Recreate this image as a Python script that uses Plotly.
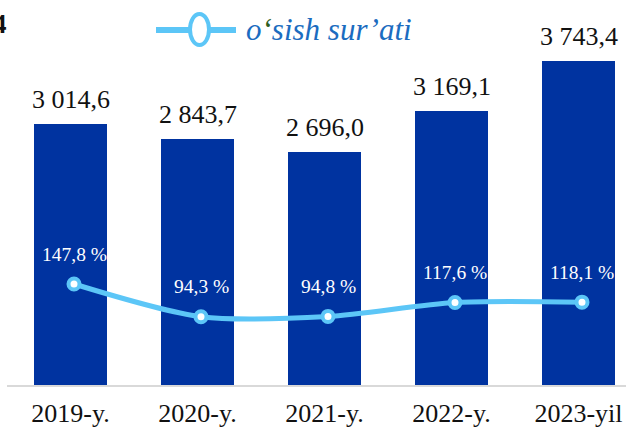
import plotly.graph_objects as go

categories = ["2019-y.", "2020-y.", "2021-y.", "2022-y.", "2023-yil"]
volume = [3014.6, 2843.7, 2696.0, 3169.1, 3743.4]
volume_labels = ["3 014,6", "2 843,7", "2 696,0", "3 169,1", "3 743,4"]
growth = [147.8, 94.3, 94.8, 117.6, 118.1]
growth_labels = ["147,8 %", "94,3 %", "94,8 %", "117,6 %", "118,1 %"]
legend_name = "o<span style='color:#2E5E1E'>‘</span>sish sur’ati"

BAR = "#0033A0"
LINE = "#5CC6F7"
SERIF = "Liberation Serif"

W, H = 626, 430
ML, MB = 7, 45
plot_w = W - ML
plot_h = H - MB
step = 127.0
xmax = -0.5 + plot_w / step
shift = 3.5 / step

idx = list(range(len(categories)))

fig = go.Figure()
fig.add_trace(go.Bar(
    x=idx, y=volume, marker=dict(color=BAR, line=dict(width=0)),
    width=0.575, showlegend=False, hoverinfo="skip",
))
fig.add_trace(go.Scatter(
    x=idx, y=growth, xaxis="x2", yaxis="y2", mode="lines+markers",
    line=dict(color=LINE, width=5, shape="spline", smoothing=0.8),
    marker=dict(size=11, color="white", line=dict(color=LINE, width=4)),
    showlegend=False, hoverinfo="skip",
))

annotations = []
for i, (v, t) in enumerate(zip(volume, volume_labels)):
    annotations.append(dict(x=i, y=v, xref="x", yref="y", text=t, showarrow=False,
                            yanchor="bottom", yshift=8,
                            font=dict(family=SERIF, size=26, color="#111111")))
for i, (v, t) in enumerate(zip(growth, growth_labels)):
    annotations.append(dict(x=i, y=v, xref="x2", yref="y2", text=t, showarrow=False,
                            yanchor="middle", yshift=30,
                            font=dict(family=SERIF, size=19.5, color="white")))

def px(xp):
    return (xp - ML) / plot_w

def py(yp):
    return (plot_h - yp) / plot_h

# legend (drawn manually)
annotations.append(dict(x=px(244), y=py(29), xref="paper", yref="paper", text=legend_name,
                        showarrow=False, xanchor="left", yanchor="middle",
                        font=dict(family=SERIF, size=31, color="#1B6CC0", style="italic")))
annotations.append(dict(x=px(9), y=py(24), xref="paper", yref="paper", text="4",
                        showarrow=False, xanchor="right", yanchor="middle",
                        font=dict(family=SERIF, size=27, color="#111111", weight="bold")))

shapes = [
    dict(type="line", xref="paper", yref="paper", x0=px(156), x1=px(236), y0=py(30), y1=py(30),
         line=dict(color=LINE, width=6)),
    dict(type="circle", xref="paper", yref="paper", x0=px(190), x1=px(209), y0=py(14), y1=py(45),
         fillcolor="white", line=dict(color=LINE, width=4)),
]

fig.update_layout(
    width=W, height=H,
    margin=dict(l=ML, r=0, t=0, b=MB),
    paper_bgcolor="white", plot_bgcolor="white",
    bargap=0,
    xaxis=dict(range=[-0.5, xmax], tickmode="array", tickvals=idx, ticktext=categories,
               showgrid=False, zeroline=False, showline=True, linecolor="#D9D9D9", linewidth=2,
               ticks="", ticklabelstandoff=4,
               tickfont=dict(family=SERIF, size=26, color="#111111"), fixedrange=True),
    xaxis2=dict(range=[-0.5 - shift, xmax - shift], overlaying="x", visible=False, fixedrange=True),
    yaxis=dict(range=[0, plot_h / 0.08655], visible=False, fixedrange=True),
    yaxis2=dict(range=[-17.5, 612.6], overlaying="y", visible=False, fixedrange=True),
    annotations=annotations,
    shapes=shapes,
    showlegend=False,
)

fig.write_html("out.html", config={"displayModeBar": False},
               post_script="document.body.style.margin='0';document.body.style.overflow='hidden';")
